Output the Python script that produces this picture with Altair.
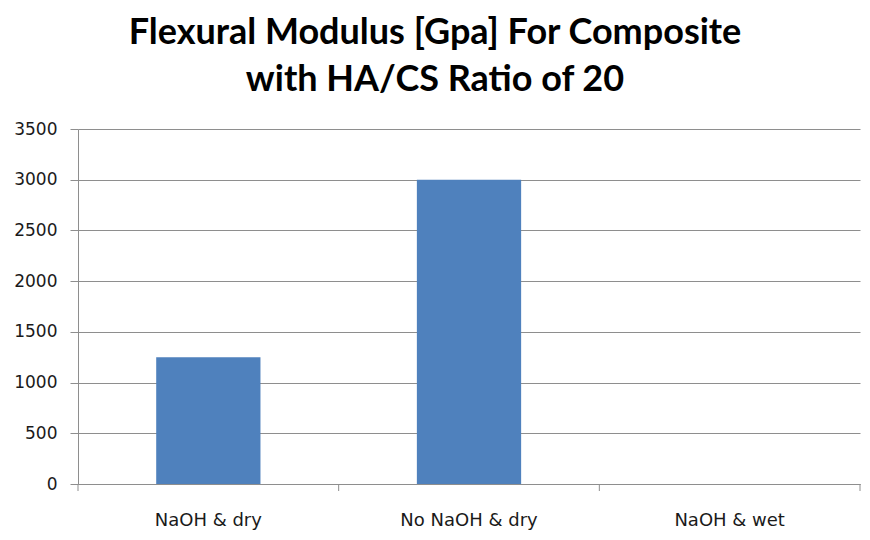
import altair as alt
import pandas as pd

categories = ["NaOH  & dry", "No NaOH & dry", "NaOH & wet"]
values = [1250, 3000, 0]
y_ticks = [0, 500, 1000, 1500, 2000, 2500, 3000, 3500]
boundaries = [0, 1, 2, 3]

df = pd.DataFrame({"category": categories, "value": values})
bdf = pd.DataFrame({"b": boundaries})

W, H = 782, 355
GRID = "#8e8e8e"
FONT = "DejaVu Sans"

bars = alt.Chart(df).mark_bar(color="#4F81BD").encode(
    x=alt.X(
        "category:N",
        sort=categories,
        scale=alt.Scale(paddingInner=0.6, paddingOuter=0.3),
        axis=alt.Axis(
            title=None, labelAngle=0, ticks=False, domain=True, domainColor=GRID,
            labelFont=FONT, labelFontSize=18, labelColor="#1a1a1a", labelPadding=27,
            grid=False,
        ),
    ),
    y=alt.Y(
        "value:Q",
        scale=alt.Scale(domain=[0, 3500], nice=False),
        axis=alt.Axis(
            title=None, values=y_ticks, format="d", grid=True, gridColor=GRID, gridOpacity=1,
            domainColor=GRID, tickColor=GRID, tickSize=8, labelPadding=13,
            labelFont=FONT, labelFontSize=17, labelColor="#1a1a1a",
        ),
    ),
)

ticks = alt.Chart(bdf).mark_rule(color=GRID).encode(
    x=alt.X("b:Q", scale=alt.Scale(domain=[0, 3], nice=False, zero=False), axis=None),
    y=alt.value(H),
    y2=alt.value(H + 7),
)

chart = alt.layer(bars, ticks).resolve_scale(x="independent").properties(
    width=W,
    height=H,
    autosize=alt.AutoSizeParams(type="none"),
    padding={"left": 70, "top": 121, "right": 2, "bottom": 50},
    title=alt.Title(
        ["Flexural Modulus [Gpa] For Composite", "with HA/CS Ratio of 20"],
        font="Lato", fontSize=36, fontWeight="bold", color="#000000",
        lineHeight=47, anchor="middle", dx=-34, offset=21,
    ),
).configure_view(stroke=None)

chart.save("out.html", embed_options={"renderer": "svg", "actions": False})
